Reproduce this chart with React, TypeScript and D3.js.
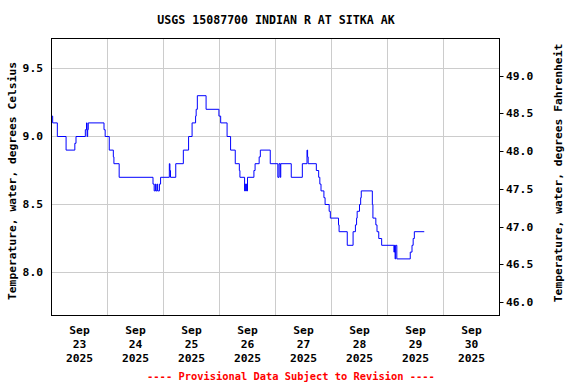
import React, { useEffect, useRef } from 'react';
import * as d3 from 'd3';

// step change points of the 15-minute record (time, deg C)
const times = [
  '2025-09-23 00:00', '2025-09-23 00:30', '2025-09-23 02:30', '2025-09-23 06:15', '2025-09-23 10:00',
  '2025-09-23 10:30', '2025-09-23 14:30', '2025-09-23 15:00', '2025-09-23 15:15', '2025-09-23 15:30',
  '2025-09-23 15:45', '2025-09-23 22:30', '2025-09-23 23:00', '2025-09-24 00:45', '2025-09-24 02:30',
  '2025-09-24 02:45', '2025-09-24 05:00', '2025-09-24 19:30', '2025-09-24 20:00', '2025-09-24 20:30',
  '2025-09-24 20:45', '2025-09-24 21:15', '2025-09-24 21:30', '2025-09-24 22:15', '2025-09-24 22:45',
  '2025-09-25 02:30', '2025-09-25 02:45', '2025-09-25 03:00', '2025-09-25 05:15', '2025-09-25 08:30',
  '2025-09-25 10:45', '2025-09-25 12:15', '2025-09-25 13:45', '2025-09-25 14:00', '2025-09-25 14:30',
  '2025-09-25 18:15', '2025-09-25 23:45', '2025-09-26 00:30', '2025-09-26 03:15', '2025-09-26 04:45',
  '2025-09-26 06:45', '2025-09-26 08:30', '2025-09-26 08:45', '2025-09-26 10:45', '2025-09-26 11:00',
  '2025-09-26 11:15', '2025-09-26 11:30', '2025-09-26 11:45', '2025-09-26 12:00', '2025-09-26 14:45',
  '2025-09-26 15:15', '2025-09-26 17:00', '2025-09-26 17:30', '2025-09-26 21:45', '2025-09-27 01:00',
  '2025-09-27 01:30', '2025-09-27 02:00', '2025-09-27 02:15', '2025-09-27 06:45', '2025-09-27 11:30',
  '2025-09-27 13:30', '2025-09-27 13:45', '2025-09-27 14:00', '2025-09-27 17:30', '2025-09-27 18:30',
  '2025-09-27 19:00', '2025-09-27 19:30', '2025-09-27 20:45', '2025-09-27 21:15', '2025-09-27 23:00',
  '2025-09-27 23:30', '2025-09-28 03:00', '2025-09-28 03:15', '2025-09-28 06:45', '2025-09-28 09:15',
  '2025-09-28 10:15', '2025-09-28 10:45', '2025-09-28 11:00', '2025-09-28 12:00', '2025-09-28 12:30',
  '2025-09-28 12:45', '2025-09-28 17:30', '2025-09-28 17:45', '2025-09-28 19:00', '2025-09-28 19:30',
  '2025-09-28 20:15', '2025-09-28 21:30', '2025-09-29 02:45', '2025-09-29 03:00', '2025-09-29 03:15',
  '2025-09-29 03:30', '2025-09-29 04:00', '2025-09-29 09:45', '2025-09-29 10:30', '2025-09-29 11:00',
  '2025-09-29 11:30', '2025-09-29 15:45',
];
const temps = [
  9.15, 9.1, 9.0, 8.9, 8.95,
  9.0, 9.05, 9.1, 9.0, 9.05,
  9.1, 9.05, 9.0, 8.9, 8.85,
  8.8, 8.7, 8.65, 8.6, 8.65,
  8.6, 8.65, 8.6, 8.65, 8.7,
  8.8, 8.75, 8.7, 8.8, 8.9,
  9.0, 9.1, 9.15, 9.2, 9.3,
  9.2, 9.15, 9.1, 9.0, 8.9,
  8.8, 8.75, 8.7, 8.6, 8.65,
  8.6, 8.65, 8.6, 8.7, 8.75,
  8.8, 8.85, 8.9, 8.8, 8.7,
  8.8, 8.7, 8.8, 8.7, 8.8,
  8.9, 8.85, 8.8, 8.75, 8.7,
  8.65, 8.6, 8.55, 8.5, 8.45,
  8.4, 8.35, 8.3, 8.2, 8.3,
  8.35, 8.4, 8.45, 8.5, 8.55,
  8.6, 8.5, 8.4, 8.35, 8.3,
  8.25, 8.2, 8.15, 8.2, 8.1,
  8.2, 8.1, 8.15, 8.2, 8.25,
  8.3, 8.3,
];

const celsiusTicks = [8.0, 8.5, 9.0, 9.5];
const fahrenheitTicks = [46.0, 46.5, 47.0, 47.5, 48.0, 48.5, 49.0];
const dayLabels = ['2025-09-23', '2025-09-24', '2025-09-25', '2025-09-26', '2025-09-27', '2025-09-28', '2025-09-29', '2025-09-30'];

const title = 'USGS 15087700 INDIAN R AT SITKA AK';
const leftTitle = 'Temperature, water, degrees Celsius';
const rightTitle = 'Temperature, water, degrees Fahrenheit';
const footer = '---- Provisional Data Subject to Revision ----';

const FONT = "'DejaVu Sans Mono', monospace";

export default function App() {
  const ref = useRef<SVGSVGElement | null>(null);

  useEffect(() => {
    const parse = d3.timeParse('%Y-%m-%d %H:%M');
    const parseDay = d3.timeParse('%Y-%m-%d');
    const data = times.map((t, i) => ({ t: parse(t) as Date, v: temps[i] }));

    const left = 51.5, right = 499.5, top = 38.5, bottom = 315.5;

    const svg = d3.select(ref.current);
    svg.selectAll('*').remove();

    const x = d3.scaleTime()
      .domain([parseDay('2025-09-23') as Date, parseDay('2025-10-01') as Date])
      .range([left, right]);

    // 136 px per degree C, 9.5 at y=68.5
    const y = d3.scaleLinear()
      .domain([9.5 - (bottom - 68.5) / 136, 9.5 + (68.5 - top) / 136])
      .range([bottom, top]);
    const c2f = (c: number) => c * 1.8 + 32;
    const yF = d3.scaleLinear()
      .domain(y.domain().map(c2f))
      .range([bottom, top]);

    const snap = (v: number) => Math.round(v - 0.5) + 0.5;

    // grid
    const grid = svg.append('g').attr('stroke', '#cccccc').attr('stroke-width', 1);
    celsiusTicks.forEach(c => {
      grid.append('line').attr('x1', left).attr('x2', right)
        .attr('y1', snap(y(c))).attr('y2', snap(y(c)));
    });
    const days = d3.timeDay.range(parseDay('2025-09-24') as Date, parseDay('2025-10-01') as Date);
    days.forEach(d => {
      grid.append('line').attr('y1', top).attr('y2', bottom)
        .attr('x1', snap(x(d))).attr('x2', snap(x(d)));
    });

    // data line
    const line = d3.line<{ t: Date; v: number }>()
      .x(d => x(d.t))
      .y(d => y(d.v))
      .curve(d3.curveStepAfter);
    svg.append('path')
      .datum(data)
      .attr('d', line)
      .attr('fill', 'none')
      .attr('stroke', '#0000ff')
      .attr('stroke-width', 1);

    // frame
    svg.append('rect')
      .attr('x', left).attr('y', top)
      .attr('width', right - left).attr('height', bottom - top)
      .attr('fill', 'none').attr('stroke', '#000').attr('stroke-width', 1);

    const txt = svg.append('g')
      .attr('font-family', FONT)
      .attr('font-weight', 'bold')
      .attr('font-size', 11.3)
      .attr('fill', '#000');

    // left axis labels
    celsiusTicks.forEach(c => {
      txt.append('text').attr('x', 43).attr('y', y(c)).attr('dy', '0.35em')
        .attr('text-anchor', 'end').text(d3.format('.1f')(c));
    });

    // right axis ticks + labels
    fahrenheitTicks.forEach(f => {
      const yy = snap(yF(f));
      svg.append('line').attr('x1', right).attr('x2', right + 4)
        .attr('y1', yy).attr('y2', yy).attr('stroke', '#000');
      txt.append('text').attr('x', 506).attr('y', yy).attr('dy', '0.35em')
        .attr('text-anchor', 'start').text(d3.format('.1f')(f));
    });

    // x labels at noon of each day
    dayLabels.forEach(s => {
      const d = parseDay(s) as Date;
      const cx = x(d3.timeHour.offset(d, 12));
      const lines = [d3.timeFormat('%b')(d), d3.timeFormat('%d')(d), d3.timeFormat('%Y')(d)];
      lines.forEach((l, i) => {
        txt.append('text').attr('x', cx).attr('y', 334 + i * 14)
          .attr('text-anchor', 'middle').text(l);
      });
    });

    // titles
    txt.append('text').attr('x', 276).attr('y', 24)
      .attr('text-anchor', 'middle').attr('font-size', 11.6).text(title);
    txt.append('text')
      .attr('transform', `translate(16, ${(top + bottom) / 2 + 4}) rotate(-90)`)
      .attr('text-anchor', 'middle').text(leftTitle);
    txt.append('text')
      .attr('transform', `translate(562, ${(top + bottom) / 2 - 4}) rotate(-90)`)
      .attr('text-anchor', 'middle').text(rightTitle);
    txt.append('text').attr('x', 291).attr('y', 380)
      .attr('text-anchor', 'middle').attr('fill', '#ff0000').attr('font-size', 10.4).text(footer);
  }, []);

  return (
    <div style={{ position: 'fixed', left: 0, top: 0, width: 576, height: 384, background: '#fff' }}>
      <svg ref={ref} width={576} height={384} style={{ display: 'block' }} />
    </div>
  );
}
